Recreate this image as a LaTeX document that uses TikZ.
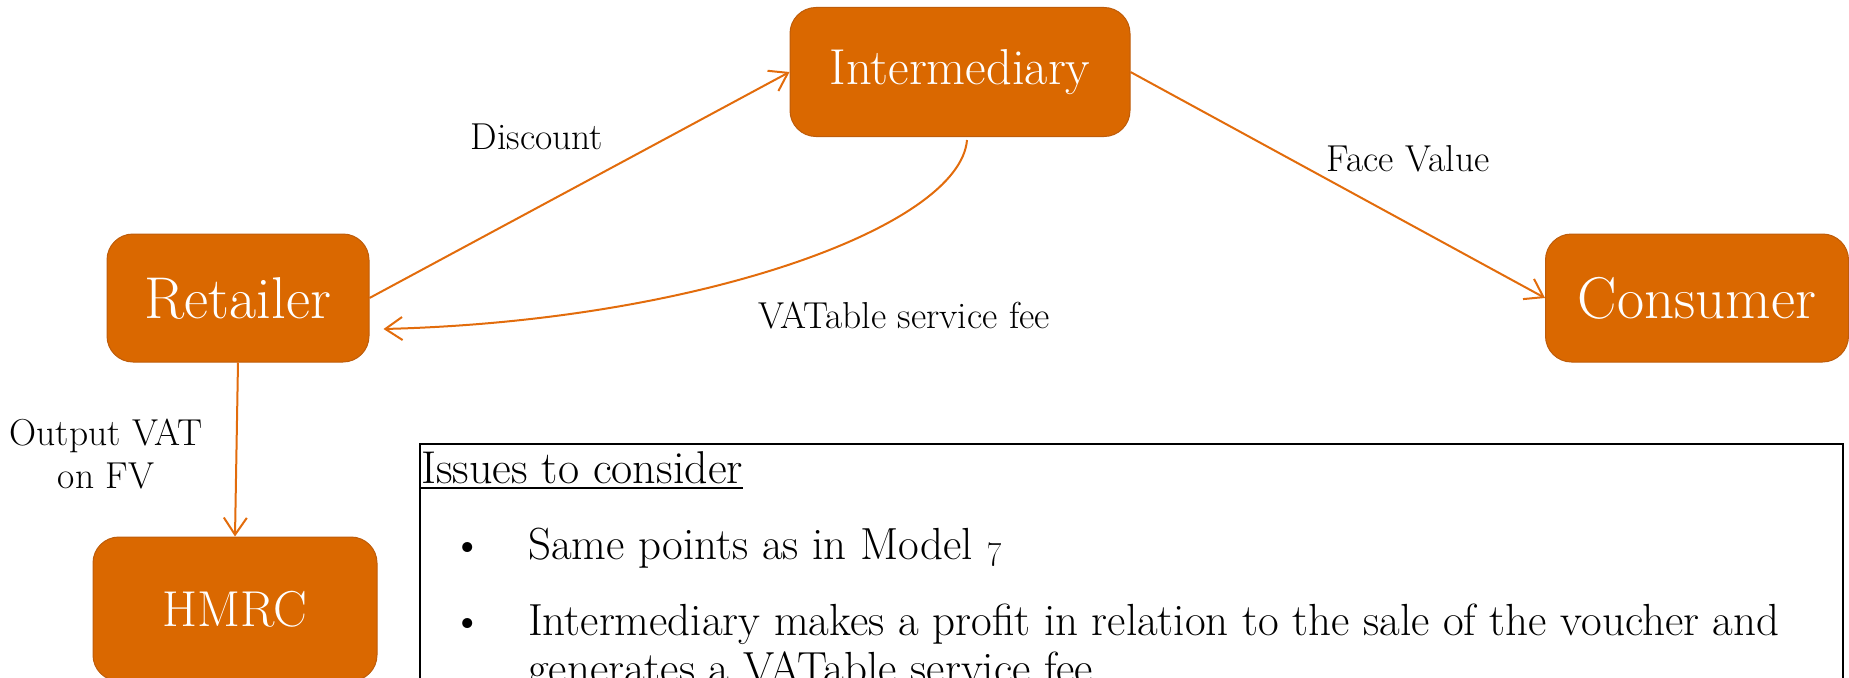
\documentclass[tikz,border=0pt]{standalone}
\usetikzlibrary{arrows.meta}
\definecolor{boxfill}{RGB}{218,104,0}
\definecolor{boxedge}{RGB}{190,92,10}
\definecolor{flowline}{RGB}{226,108,12}
\begin{document}
\begin{tikzpicture}[x=1pt,y=-1pt,
  party/.style={draw=boxedge, line width=1pt, fill=boxfill, rounded corners=26pt,
                text=white, inner sep=0pt},
  flow/.style={draw=flowline, line width=2pt,
               -{Straight Barb[length=17pt,width=23pt]}},
  lbl/.style={font=\fontsize{37.5}{43}\selectfont, anchor=base, inner sep=0pt},
  body/.style={font=\fontsize{45}{48}\selectfont, anchor=base west, inner sep=0pt}
]
\useasboundingbox (0,0) rectangle (1849,677);

% parties
\node[party, minimum width=340pt, minimum height=129pt,
      font=\fontsize{50.5}{58}\selectfont] (inter) at (960,72) {Intermediary};
\node[party, minimum width=262pt, minimum height=128pt,
      font=\fontsize{59}{66}\selectfont] (ret) at (238,298) {Retailer};
\node[party, minimum width=303pt, minimum height=128pt,
      font=\fontsize{59}{66}\selectfont] (cons) at (1697,298) {Consumer};
\node[party, minimum width=284pt, minimum height=144pt,
      font=\fontsize{50.5}{58}\selectfont] (hmrc) at (235,609) {HMRC};

% flows
\draw[flow] (ret.east) -- (inter.west);
\draw[flow] (inter.east) -- (cons.west);
\draw[flow] (ret.south) -- (hmrc.north);
\draw[flow] ([xshift=7pt,yshift=-3pt]inter.south)
   .. controls +(-7,86) and +(317,-8) .. ([xshift=14pt,yshift=-31pt]ret.east);

% flow labels (a multi-line node's base is its last line)
\node[lbl] (ldisc) at (537,149) {Discount};
\node[lbl] (lface) at (1408,171) {Face Value};
\node[lbl] (lfee) at (904,328) {VATable service fee};
\node[lbl, align=center] (lvat) at (106,488) {Output VAT\\on FV};

% issues panel
\node[draw=black, line width=2pt, minimum width=1423pt, minimum height=320pt,
      anchor=north west, inner sep=0pt] (issues) at (419,443) {};
\node[body, font=\fontsize{46}{50}\selectfont] (head) at (421,483) {Issues to consider};
\draw[line width=2pt] ([yshift=-5pt]head.base west) -- ([yshift=-5pt]head.base east);
\node[body, anchor=base] (dot1) at (468,559) {\textbullet};
\node[body] (item1) at (528,559) {Same points as in Model \oldstylenums{7}};
\node[body, anchor=base] (dot2) at (468,635) {\textbullet};
\node[body, align=left] (item2) at (528,683)
  {Intermediary makes a profit in relation to the sale of the voucher and\\
   generates a VATable service fee};
\end{tikzpicture}
\end{document}
